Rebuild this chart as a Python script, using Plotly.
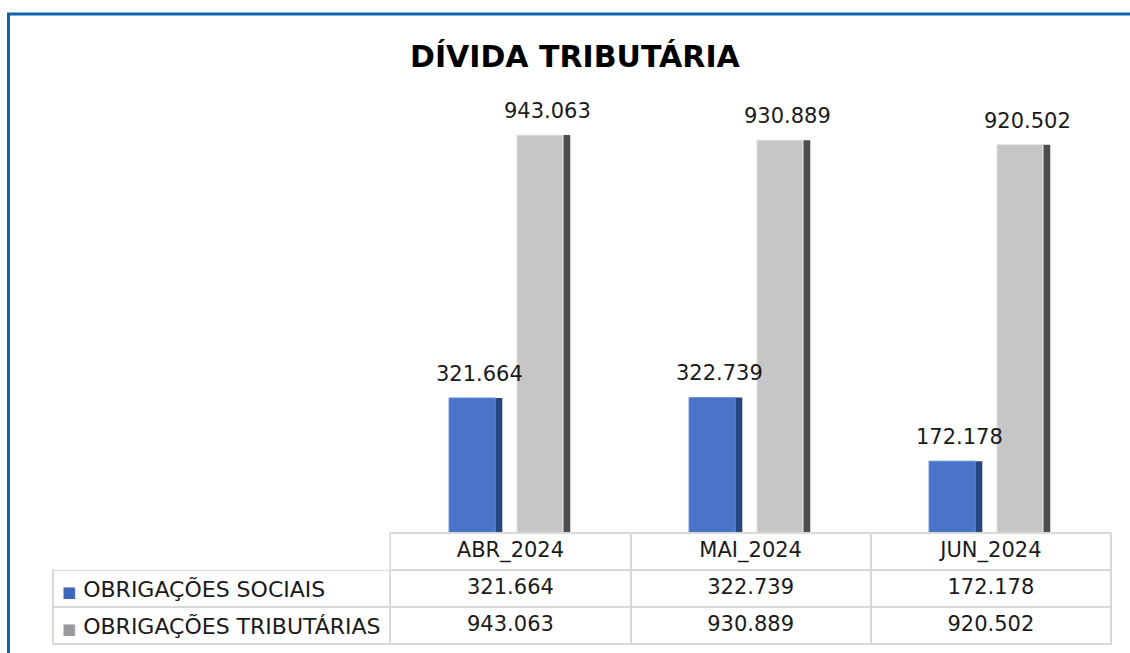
import plotly.graph_objects as go

# ---- data ----
months = ["ABR_2024", "MAI_2024", "JUN_2024"]
obrig_sociais = [321664, 322739, 172178]
obrig_tributarias = [943063, 930889, 920502]
series_names = ["OBRIGAÇÕES SOCIAIS", "OBRIGAÇÕES TRIBUTÁRIAS"]
title_text = "DÍVIDA TRIBUTÁRIA"

W, H = 1130, 653
FONT = "DejaVu Sans"

def px(x):
    return x / W

def py(y):
    return 1 - y / H

def fmt(v):
    return f"{v:,}".replace(",", ".")

BLUE_DARK = "#27457f"
BLUE = "#4a74c8"
GRAY_DARK = "#4d4d4d"
GRAY = "#c6c6c6"
TXT = "#1a1a1a"

fig = go.Figure()

# bar geometry (category units)
bw = 0.222
off_s = -0.254
off_t = 0.029
edge = 0.03

# outer (dark edge) bars
fig.add_trace(go.Bar(x=months, y=obrig_sociais, width=bw, offset=off_s,
                     marker=dict(color=BLUE_DARK, line=dict(width=0)),
                     hoverinfo="skip", showlegend=False))
fig.add_trace(go.Bar(x=months, y=obrig_tributarias, width=bw, offset=off_t,
                     marker=dict(color=GRAY_DARK, line=dict(width=0)),
                     hoverinfo="skip", showlegend=False))
# face bars
for vals, off, col, lc, nm in [
    (obrig_sociais, off_s, BLUE, "#6f93d8", series_names[0]),
    (obrig_tributarias, off_t, GRAY, "#e8e8e8", series_names[1]),
]:
    fig.add_trace(go.Bar(x=months, y=vals, width=bw - edge, offset=off,
                         marker=dict(color=col, line=dict(width=1, color=lc)),
                         name=nm, showlegend=False))

# data table under the chart
cols = [["", ""]] + [[fmt(s), fmt(t)] for s, t in zip(obrig_sociais, obrig_tributarias)]

LINE = "#d9d9d9"
fig.add_trace(go.Table(
    domain=dict(x=[px(53), px(1111)], y=[py(646), py(533)]),
    columnwidth=[337, 240, 240, 240],
    header=dict(values=[""] + months,
                fill_color="white",
                line=dict(color=["rgba(0,0,0,0)", LINE, LINE, LINE], width=2),
                align="center", height=37,
                font=dict(family=FONT, size=21, color=TXT)),
    cells=dict(values=cols,
               fill_color="white",
               line=dict(color=LINE, width=2),
               align=["left", "center", "center", "center"], height=37,
               font=dict(family=FONT, size=21, color=TXT)),
))

annotations = [dict(text=f"<b>{title_text}</b>", x=px(575), y=py(57),
                    xref="paper", yref="paper", showarrow=False,
                    xanchor="center", yanchor="middle",
                    font=dict(family=FONT, size=30, color="#000000"))]

# value labels above bars
for vals, shift in [(obrig_sociais, -31), (obrig_tributarias, 37)]:
    for m, v in zip(months, vals):
        annotations.append(dict(text=fmt(v), x=m, y=v, xref="x", yref="y",
                                showarrow=False, xanchor="center", yanchor="bottom",
                                xshift=shift, yshift=10,
                                font=dict(family=FONT, size=21, color=TXT)))

legend_cols = ["#3f66b8", "#9a9a9a"]
for i, (nm, c) in enumerate(zip(series_names, legend_cols)):
    annotations.append(dict(
        text=f"<span style='color:{c};font-size:15px'>■</span> {nm}",
        x=px(60), y=py(589 + 37 * i), xref="paper", yref="paper",
        showarrow=False, xanchor="left", yanchor="middle",
        font=dict(family=FONT, size=22, color=TXT)))

fig.update_layout(
    width=W, height=H,
    margin=dict(l=0, r=0, t=0, b=0),
    paper_bgcolor="white", plot_bgcolor="white",
    barmode="overlay",
    showlegend=False,
    xaxis=dict(domain=[px(390), px(1110)], showticklabels=False, showgrid=False,
               zeroline=False, showline=False, ticks=""),
    yaxis=dict(domain=[py(534), py(111)], range=[0, 1000000], visible=False),
    annotations=annotations,
    shapes=[dict(type="rect", xref="paper", yref="paper",
                 x0=px(8.5), x1=px(1140), y0=py(670), y1=py(14),
                 line=dict(color="#0f65a8", width=3), fillcolor="rgba(0,0,0,0)",
                 layer="below")],
)

fig.write_html("out.html")
